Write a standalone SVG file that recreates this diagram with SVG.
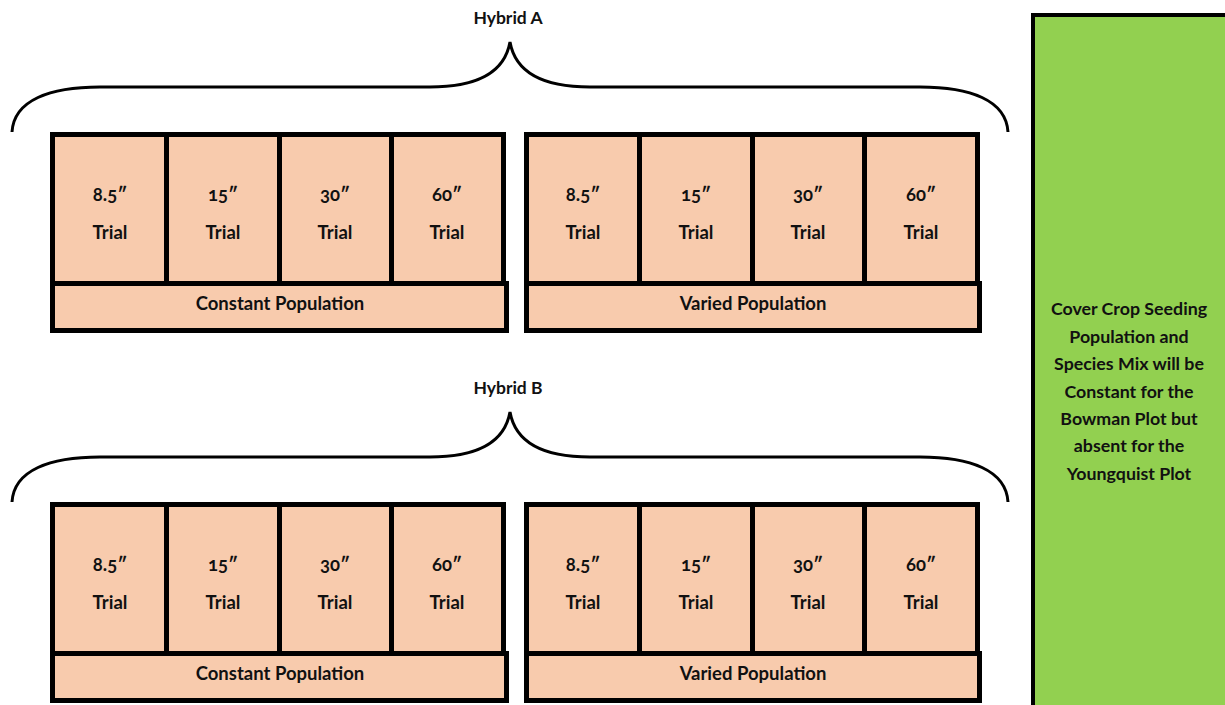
<svg xmlns="http://www.w3.org/2000/svg" width="1225" height="705" viewBox="0 0 1225 705">
<style>
.cell{fill:#F8CBAD;stroke:#000;stroke-width:5}
.brace{fill:none;stroke:#000;stroke-width:3}
.t{font-family:Lato,"Open Sans","Liberation Sans",sans-serif;font-weight:bold;font-size:18.5px;fill:#111;text-anchor:middle;font-variant-numeric:oldstyle-nums}
.h{font-size:17.5px}
.g{font-size:17.8px}
</style>
<rect width="1225" height="705" fill="#fff"/>
<g id="cover-crop">
<rect x="1033" y="15" width="200" height="700" fill="#92D050" stroke="#000" stroke-width="4"/>
<text class="t g" x="1129" y="315">Cover Crop Seeding</text>
<text class="t g" x="1129" y="343">Population and</text>
<text class="t g" x="1129" y="370">Species Mix will be</text>
<text class="t g" x="1129" y="398">Constant for the</text>
<text class="t g" x="1129" y="425">Bowman Plot but</text>
<text class="t g" x="1129" y="452">absent for the</text>
<text class="t g" x="1129" y="480">Youngquist Plot</text>
</g>
<g id="connectors">
<path class="brace" d="M12,132 C14,100 50,87 100,87 L430,87 C480,87 505,70 510,42 C515,70 540,87 590,87 L920,87 C970,87 1006,100 1008,132"/>
<path class="brace" d="M12,502 C14,470 50,457 100,457 L430,457 C480,457 505,440 510,412 C515,440 540,457 590,457 L920,457 C970,457 1006,470 1008,502"/>
</g>
<g id="hybrid-a-label"><text class="t h" x="508" y="24">Hybrid A</text></g>
<g id="hybrid-b-label"><text class="t h" x="508" y="394">Hybrid B</text></g>

<g id="hybrid-a-constant">
<rect class="cell" x="52.5" y="283.5" width="454" height="47"/>
<rect class="cell" x="52.5" y="134.5" width="114" height="149"/>
<rect class="cell" x="166.5" y="134.5" width="113" height="149"/>
<rect class="cell" x="279.5" y="134.5" width="112" height="149"/>
<rect class="cell" x="391.5" y="134.5" width="112" height="149"/>
<text class="t" x="110" y="201">8.5″</text><text class="t" x="110" y="239">Trial</text>
<text class="t" x="223" y="201">15″</text><text class="t" x="223" y="239">Trial</text>
<text class="t" x="335" y="201">30″</text><text class="t" x="335" y="239">Trial</text>
<text class="t" x="447" y="201">60″</text><text class="t" x="447" y="239">Trial</text>
<text class="t" x="280" y="310">Constant Population</text>
</g>
<g id="hybrid-a-varied">
<rect class="cell" x="526.5" y="283.5" width="453" height="47"/>
<rect class="cell" x="526.5" y="134.5" width="113" height="149"/>
<rect class="cell" x="639.5" y="134.5" width="113" height="149"/>
<rect class="cell" x="752.5" y="134.5" width="112" height="149"/>
<rect class="cell" x="864.5" y="134.5" width="113" height="149"/>
<text class="t" x="583" y="201">8.5″</text><text class="t" x="583" y="239">Trial</text>
<text class="t" x="696" y="201">15″</text><text class="t" x="696" y="239">Trial</text>
<text class="t" x="808" y="201">30″</text><text class="t" x="808" y="239">Trial</text>
<text class="t" x="921" y="201">60″</text><text class="t" x="921" y="239">Trial</text>
<text class="t" x="753" y="310">Varied Population</text>
</g>
<g id="hybrid-b-constant">
<rect class="cell" x="52.5" y="653.5" width="454" height="47"/>
<rect class="cell" x="52.5" y="504.5" width="114" height="149"/>
<rect class="cell" x="166.5" y="504.5" width="113" height="149"/>
<rect class="cell" x="279.5" y="504.5" width="112" height="149"/>
<rect class="cell" x="391.5" y="504.5" width="112" height="149"/>
<text class="t" x="110" y="571">8.5″</text><text class="t" x="110" y="609">Trial</text>
<text class="t" x="223" y="571">15″</text><text class="t" x="223" y="609">Trial</text>
<text class="t" x="335" y="571">30″</text><text class="t" x="335" y="609">Trial</text>
<text class="t" x="447" y="571">60″</text><text class="t" x="447" y="609">Trial</text>
<text class="t" x="280" y="680">Constant Population</text>
</g>
<g id="hybrid-b-varied">
<rect class="cell" x="526.5" y="653.5" width="453" height="47"/>
<rect class="cell" x="526.5" y="504.5" width="113" height="149"/>
<rect class="cell" x="639.5" y="504.5" width="113" height="149"/>
<rect class="cell" x="752.5" y="504.5" width="112" height="149"/>
<rect class="cell" x="864.5" y="504.5" width="113" height="149"/>
<text class="t" x="583" y="571">8.5″</text><text class="t" x="583" y="609">Trial</text>
<text class="t" x="696" y="571">15″</text><text class="t" x="696" y="609">Trial</text>
<text class="t" x="808" y="571">30″</text><text class="t" x="808" y="609">Trial</text>
<text class="t" x="921" y="571">60″</text><text class="t" x="921" y="609">Trial</text>
<text class="t" x="753" y="680">Varied Population</text>
</g>
</svg>
